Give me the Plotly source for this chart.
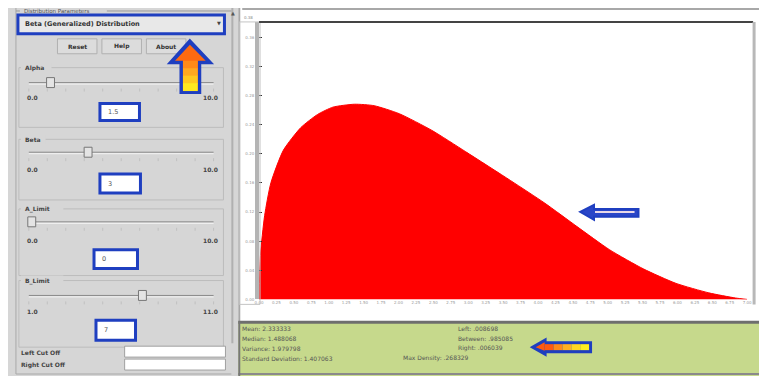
import plotly.graph_objects as go

# density curve (x in [A_Limit, B_Limit])
x_vals = [0.0, 0.02, 0.08, 0.17, 0.35, 0.60, 0.84, 1.06, 1.37, 1.65, 2.01,
          2.48, 2.96, 3.61, 4.10, 4.56, 5.03, 5.51, 5.98, 6.45, 6.83, 7.0]
density = [0.0, 0.060, 0.115, 0.160, 0.205, 0.236, 0.254, 0.264, 0.268, 0.266, 0.255,
           0.232, 0.203, 0.163, 0.132, 0.100, 0.068, 0.042, 0.022, 0.009, 0.002, 0.0]

# parameter panel
param_names = ["Alpha", "Beta", "A_Limit", "B_Limit"]
param_values = ["1.5", "3", "0", "7"]
slider_min = ["0.0", "0.0", "0.0", "1.0"]
slider_max = ["10.0", "10.0", "10.0", "11.0"]
buttons = ["Reset", "Help", "About"]

# statistics box
stats_left = ["Mean: 2.333333", "Median: 1.488068", "Variance: 1.979798",
              "Standard Deviation: 1.407063"]
stats_right = ["Left: .008698", "Between: .985085", "Right: .006039"]
max_density = "Max Density: .268329"

# the page body has an 8px margin, so the figure is drawn 8px in and 8px smaller
OFF = 8
W, H = 767 - OFF, 378 - OFF


def px(x):
    return (x - OFF) / W


def py(y):
    return 1 - (y - OFF) / H


shapes = []
annotations = []


def rect(x0, y0, x1, y1, fill=None, line=None, lw=1, layer="above"):
    shapes.append(dict(type="rect", xref="paper", yref="paper",
                       x0=px(x0), x1=px(x1), y0=py(y1), y1=py(y0),
                       fillcolor=fill if fill else "rgba(0,0,0,0)",
                       line=dict(color=line if line else "rgba(0,0,0,0)", width=lw if line else 0),
                       layer=layer))


def hline(x0, x1, y, color, lw=1, layer="above"):
    shapes.append(dict(type="line", xref="paper", yref="paper",
                       x0=px(x0), x1=px(x1), y0=py(y), y1=py(y),
                       line=dict(color=color, width=lw), layer=layer))


def vline(x, y0, y1, color, lw=1, layer="above"):
    shapes.append(dict(type="line", xref="paper", yref="paper",
                       x0=px(x), x1=px(x), y0=py(y0), y1=py(y1),
                       line=dict(color=color, width=lw), layer=layer))


def poly(pts, fill, line=None, lw=0, layer="above"):
    d = "M " + " L ".join(f"{px(a):.5f},{py(b):.5f}" for a, b in pts) + " Z"
    shapes.append(dict(type="path", xref="paper", yref="paper", path=d,
                       fillcolor=fill,
                       line=dict(color=line if line else "rgba(0,0,0,0)", width=lw),
                       layer=layer))


def text(x, y, s, size=7, color="#3a3a3a", anchor="left", bold=False):
    annotations.append(dict(xref="paper", yref="paper", x=px(x), y=py(y),
                            text=f"<b>{s}</b>" if bold else s, showarrow=False,
                            xanchor=anchor, yanchor="middle",
                            font=dict(size=size, color=color, family="DejaVu Sans")))


# ---- left panel ----
rect(0, 0, 237, 378, fill="#d6d6d6", layer="below")
vline(12, 8, 376, "#a8a8a8", 1)
hline(12, 230, 376, "#a8a8a8", 1)
vline(231, 8, 345, "#b0b0b0", 2)
text(232, 13, "▲", size=5, color="#555", anchor="center")
hline(12, 230, 11, "#9a9a9a", 1)
rect(16, 8, 104, 14, fill="#d6d6d6")
text(18, 11.5, "Distribution Parameters", size=5.5, color="#555")

# dropdown
rect(14, 15, 223, 34, fill="#e8e8e8", line="#1f3fc0", lw=3)
text(19, 24.5, "Beta (Generalized) Distribution", size=6.5, color="#333", bold=True)
text(217, 23, "▼", size=5, color="#444", anchor="center")

# buttons
for i, b in enumerate(buttons):
    x0 = 54 + i * 45
    rect(x0, 39, x0 + 40, 54, fill="#dcdcdc", line="#b0b0b0", lw=1)
    text(x0 + 20, 46.5, b, size=6, color="#333", anchor="center", bold=True)

# sliders
groups = [(68, 83, 47, 98, (97, 104, 137, 121)),
          (140, 153, 85, 170, (97, 175, 138, 194)),
          (210, 223, 28, 242, (91, 251, 135, 270)),
          (282, 297, 140, 313, (93, 322, 133, 342))]
for i, (ly, ty, thumb, ny, box) in enumerate(groups):
    rect(15, ly, 222, box[3] + 7, line="#bcbcbc", lw=1)
    rect(17, ly - 5, 18 + 6 * len(param_names[i]), ly + 5, fill="#d6d6d6")
    text(19, ly, param_names[i], size=6, color="#444", bold=True)
    hline(25, 212, ty, "#8a8a8a", 1)
    hline(25, 212, ty + 1.5, "#f4f4f4", 1)
    for k in range(11):
        tx = 25 + k * 18.7
        vline(tx, ty + 6, ty + 9, "#c0c0c0", 1)
    rect(thumb - 4, ty - 5, thumb + 4, ty + 5, fill="#e4e4e4", line="#777", lw=1)
    text(21, ny, slider_min[i], size=6, color="#444", bold=True)
    text(218, ny, slider_max[i], size=6, color="#444", anchor="right", bold=True)
    rect(box[0], box[1], box[2], box[3], fill="#ffffff", line="#1f3fc0", lw=3)
    text(box[0] + 6, (box[1] + box[3]) / 2, param_values[i], size=6.5, color="#555")

# cut-off fields
text(15, 354, "Left Cut Off", size=6, color="#444", bold=True)
rect(122, 348, 224, 359, fill="#ffffff", line="#a0a0a0", lw=1)
text(15, 367, "Right Cut Off", size=6, color="#444", bold=True)
rect(122, 361, 224, 372, fill="#ffffff", line="#a0a0a0", lw=1)

# orange up arrow
poly([(188, 41), (209, 63), (198, 63), (198, 93), (179, 93), (179, 63), (168, 63)],
     "#1f3fc0", line="#1f3fc0", lw=3)
poly([(188, 45), (204, 61), (196, 61), (196, 91), (181, 91), (181, 61), (173, 61)], "#ff6a10")
up_cols = ["#ff8a18", "#ffa820", "#ffc820", "#ffe820"]
for k, c in enumerate(up_cols):
    rect(181, 61 + k * 7.5, 196, 61 + (k + 1) * 7.5 + 0.5, fill=c)

# ---- chart panel ----
rect(237, 0, 767, 323, fill="#ffffff", layer="below")
hline(241, 767, 9, "#a8a8a8", 2)
vline(238, 8, 323, "#a8a8a8", 2)
rect(238, 22, 259, 306, line="#c4c4c4", lw=1)
hline(258, 758, 22, "#444", 2)
vline(759, 22, 306, "#b8b8b8", 3)
text(241, 18, "0.38", size=4, color="#888")

# blue arrow in chart
poly([(583, 213), (597, 206), (597, 210), (642, 210), (642, 218), (597, 218), (597, 221)],
     "#2a46c8", line="#1f3fc0", lw=2)
hline(598, 638, 213, "#e8d8e8", 2)

# ---- stats panel ----
rect(237, 323, 767, 378, fill="#c6d98c", layer="below")
hline(237, 767, 324, "#6e6e6e", 3)
hline(237, 767, 376, "#8a8a8a", 2)
vline(238, 323, 378, "#777", 2)
for i, s in enumerate(stats_left):
    text(239, 330 + i * 10, s, size=6, color="#555")
for i, s in enumerate(stats_right):
    text(457, 330 + i * 10, s, size=6, color="#555")
text(402, 360, max_density, size=6, color="#555")

# left arrow in stats panel
poly([(534, 349), (548, 341), (548, 344), (594, 344), (594, 354), (548, 354), (548, 357)],
     "#1f3fc0", line="#1f3fc0", lw=2)
left_cols = ["#ff5a10", "#ff8a18", "#ffb020", "#ffd820", "#fff020"]
poly([(538, 349), (547, 344), (547, 352.5), (538, 349)], "#ff5a10")
for k, c in enumerate(left_cols):
    rect(547 + k * 9, 346, 547 + (k + 1) * 9, 352, fill=c)

fig = go.Figure()
fig.add_trace(go.Scatter(x=x_vals, y=density, mode="lines", fill="tozeroy",
                         fillcolor="#ff0000", line=dict(color="#ff0000", width=1, shape="spline",
                                                        smoothing=0.6),
                         hoverinfo="skip"))

fig.update_layout(
    width=W, height=H,
    margin=dict(l=0, r=0, t=0, b=0),
    paper_bgcolor="#ffffff",
    plot_bgcolor="rgba(0,0,0,0)",
    showlegend=False,
    shapes=shapes,
    annotations=annotations,
    xaxis=dict(domain=[px(258), px(752)], range=[0, 7], showgrid=False, zeroline=False,
               showline=False, dtick=0.25, tickformat=".2f", ticks="",
               tickfont=dict(size=4, color="#9a9a9a", family="DejaVu Sans")),
    yaxis=dict(domain=[py(301), py(22)], range=[0, 0.381], showgrid=False, zeroline=False,
               showline=True, linecolor="#b4b4b4", linewidth=4, ticks="inside", ticklen=3,
               tickcolor="#333", dtick=0.04, tickformat=".2f",
               tickfont=dict(size=4, color="#9a9a9a", family="DejaVu Sans")),
)

fig.write_html("out.html")
